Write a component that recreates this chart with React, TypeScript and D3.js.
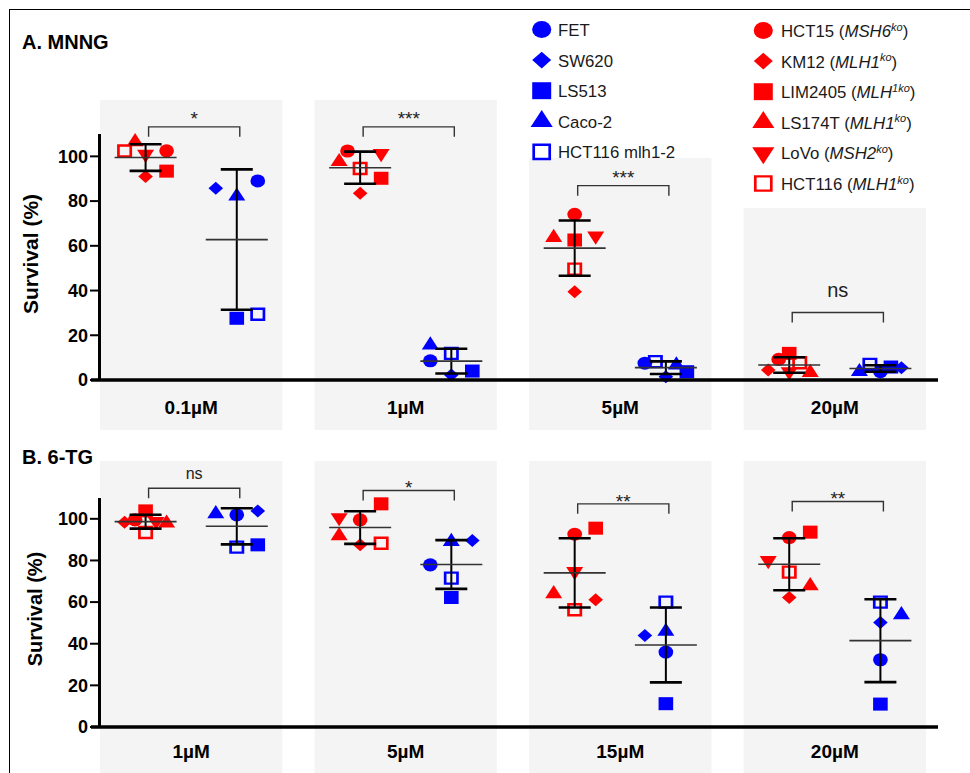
import * as d3 from "d3";

const FONT = "'Liberation Sans', Arial, Helvetica, sans-serif";
const RED = "#ff0000";
const BLUE = "#0000ff";

// cell lines
const DEFICIENT_LINES = ["HCT15", "KM12", "LIM2405", "LS174T", "LoVo", "HCT116"];
const DEFICIENT_GENES = ["MSH6", "MLH1", "MLH", "MLH1", "MSH2", "MLH1"];
const DEFICIENT_SUP = ["ko", "ko", "1ko", "ko", "ko", "ko"];
const PROFICIENT_LINES = ["FET", "SW620", "LS513", "Caco-2", "HCT116 mlh1-2"];

type Shape = "circle" | "diamond" | "square" | "triangle" | "triangleDown" | "openSquare";
const DEFICIENT_SHAPES: Shape[] = ["circle", "diamond", "square", "triangle", "triangleDown", "openSquare"];
const PROFICIENT_SHAPES: Shape[] = ["circle", "diamond", "square", "triangle", "openSquare"];

// doses
const MNNG_DOSES = ["0.1µM", "1µM", "5µM", "20µM"];
const TG_DOSES = ["1µM", "5µM", "15µM", "20µM"];

// survival (%) per dose, same order as the cell lines
const MNNG_DEFICIENT = [
  [102.5, 91, 93.4, 106.5, 101, 102.4],
  [102.4, 83.5, 90.2, 97.6, 101.3, 94.6],
  [74.1, 39.5, 62.6, 63.7, 64.4, 49.6],
  [9.2, 4.5, 11.9, 3.3, 3.7, 7.7],
];
const MNNG_PROFICIENT = [
  [89, 85.7, 27.6, 82.2, 29.4],
  [8.6, 2.2, 4.0, 15.6, 11.9],
  [7.5, 1.5, 3.7, 6.7, 8.2],
  [3.7, 5.5, 5.8, 3.7, 7.0],
];
const TG_DEFICIENT = [
  [99.5, 98.4, 103.8, 97.9, 98.8, 93.4],
  [99.5, 87.5, 107.2, 91.8, 100.6, 88.3],
  [92.6, 61.1, 95.5, 64, 74.7, 56.3],
  [91, 62.2, 93.6, 67.8, 80, 74.4],
];
const TG_PROFICIENT = [
  [101.9, 103.8, 87.5, 102.4, 86.4],
  [77.9, 89.6, 62.2, 89.1, 71.5],
  [36, 44, 11.2, 45.9, 60],
  [32.3, 50.2, 11, 53.9, 60],
];

// scatter lane of each point inside its column (overlap spreading)
const MNNG_DEFICIENT_LANE = [
  [1, 0, 1, -0.5, 0, -1],
  [-0.6, 0, 1, -1, 1, 0],
  [0, 0, 0, -1, 1, 0],
  [-0.5, -1, 0, 1, 0, 0.5],
];
const MNNG_PROFICIENT_LANE = [
  [1, -1, 0, 0, 1],
  [-1, 0, 1, -1, 0],
  [-1, 0, 1, 0.5, -0.5],
  [0, 1, 0.5, -1, -0.5],
];
const TG_DEFICIENT_LANE = [
  [-0.5, -1, 0, 1, 0.5, 0],
  [0, 0, 1, -1, -1, 1],
  [0, 1, 1, -1, 0, 0],
  [0, 0, 1, 1, -1, 0],
];
const TG_PROFICIENT_LANE = [
  [0, 1, 1, -1, 0],
  [-1, 1, 0, 0, 0],
  [0, -1, 0, 0, 0],
  [0, 0, 0, 1, 0],
];

// significance brackets
const MNNG_BRACKET = [113.2, 113.2, 86.9, 30.2];
const MNNG_SIG = ["*", "***", "***", "ns"];
const TG_BRACKET = [114.7, 113.6, 107.2, 108.3];
const TG_SIG = ["ns", "*", "**", "**"];

const Y_TICKS = [0, 20, 40, 60, 80, 100];

const diamond = {
  draw(ctx: any, size: number) {
    const r = Math.sqrt(size / 2);
    ctx.moveTo(0, -r);
    ctx.lineTo(r, 0);
    ctx.lineTo(0, r);
    ctx.lineTo(-r, 0);
    ctx.closePath();
  },
};
const SYMBOL_TYPE: Record<Shape, any> = {
  circle: d3.symbolCircle,
  diamond,
  square: d3.symbolSquare,
  triangle: d3.symbolTriangle,
  triangleDown: d3.symbolTriangle,
  openSquare: d3.symbolSquare,
};
const SYMBOL_SIZE: Record<Shape, number> = {
  circle: 135,
  diamond: 85,
  square: 170,
  triangle: 100,
  triangleDown: 100,
  openSquare: 121,
};

function Marker({ shape, color, x, y, k = 1 }: { shape: Shape; color: string; x: number; y: number; k?: number }) {
  const d = d3.symbol(SYMBOL_TYPE[shape], SYMBOL_SIZE[shape] * k * k)() || "";
  const rot = shape === "triangleDown" ? " rotate(180)" : "";
  const open = shape === "openSquare";
  return (
    <path
      d={d}
      transform={`translate(${x},${y}) scale(1.12,1)${rot}`}
      fill={open ? "none" : color}
      stroke={open ? color : "none"}
      strokeWidth={open ? 2.4 : 0}
    />
  );
}

interface PanelCfg {
  title: string;
  titleY: number;
  doses: string[];
  deficient: number[][];
  proficient: number[][];
  defLane: number[][];
  profLane: number[][];
  bracket: number[];
  sig: string[];
  y0: number;
  yTop: number;
  bandTop: number;
  bandBottom: number;
  catY: number;
  yLabel: [number, number, number];
  starGap: number;
  nsGap: number;
  nsSize: number;
}

function Panel({ cfg }: { cfg: PanelCfg }) {
  const x = d3.scaleBand<string>().domain(cfg.doses).range([100, 926]).paddingInner(0.15);
  const side = d3
    .scalePoint<string>()
    .domain(["deficient", "proficient"])
    .range([0, x.bandwidth()])
    .padding(0.5);
  const lane = d3.scaleLinear().domain([-1, 1]).range([-21, 21]);
  const y = d3.scaleLinear().domain([0, 110]).range([cfg.y0, cfg.yTop]);

  const groups = cfg.doses.flatMap((dose, i) => [
    {
      dose,
      cx: x(dose)! + side("deficient")!,
      values: cfg.deficient[i],
      lanes: cfg.defLane[i],
      shapes: DEFICIENT_SHAPES,
      color: RED,
    },
    {
      dose,
      cx: x(dose)! + side("proficient")!,
      values: cfg.proficient[i],
      lanes: cfg.profLane[i],
      shapes: PROFICIENT_SHAPES,
      color: BLUE,
    },
  ]);

  return (
    <g fontFamily={FONT}>
      {cfg.doses.map((dose) => (
        <rect
          key={dose}
          x={x(dose)}
          y={cfg.bandTop}
          width={x.bandwidth()}
          height={cfg.bandBottom - cfg.bandTop}
          fill="#f4f4f4"
        />
      ))}
      <text x={22} y={cfg.titleY} fontSize={20} fontWeight="bold" fill="#000">
        {cfg.title}
      </text>

      {/* y axis */}
      <line x1={99.5} x2={99.5} y1={cfg.y0} y2={y(110)} stroke="#000" strokeWidth={3} />
      {Y_TICKS.map((t) => (
        <g key={t}>
          <line x1={90} x2={99} y1={y(t)} y2={y(t)} stroke="#000" strokeWidth={2} />
          <text x={88} y={y(t) + 6.4} fontSize={18} fontWeight="bold" textAnchor="end" fill="#000">
            {t}
          </text>
        </g>
      ))}
      <text
        transform={`translate(${cfg.yLabel[0]},${cfg.yLabel[1]}) rotate(-90)`}
        fontSize={cfg.yLabel[2]}
        fontWeight="bold"
        textAnchor="middle"
        fill="#000"
      >
        Survival (%)
      </text>

      {/* category labels */}
      {cfg.doses.map((dose) => (
        <text
          key={dose}
          x={x(dose)! + x.bandwidth() / 2}
          y={cfg.catY}
          fontSize={19}
          fontWeight="bold"
          textAnchor="middle"
          fill="#000"
        >
          {dose}
        </text>
      ))}

      {/* points */}
      {groups.map((g, gi) => (
        <g key={gi}>
          {g.values.map((v, j) => (
            <Marker key={j} shape={g.shapes[j]} color={g.color} x={g.cx + lane(g.lanes[j])} y={y(v)} />
          ))}
        </g>
      ))}

      {/* mean ± SD */}
      {groups.map((g, gi) => {
        const m = d3.mean(g.values)!;
        const sd = d3.deviation(g.values)!;
        return (
          <g key={gi} stroke="#000">
            <line x1={g.cx} x2={g.cx} y1={y(m + sd)} y2={y(m - sd)} strokeWidth={2} />
            <line x1={g.cx - 16} x2={g.cx + 16} y1={y(m + sd)} y2={y(m + sd)} strokeWidth={2.6} />
            <line x1={g.cx - 16} x2={g.cx + 16} y1={y(m - sd)} y2={y(m - sd)} strokeWidth={2.6} />
            <line x1={g.cx - 31} x2={g.cx + 31} y1={y(m)} y2={y(m)} strokeWidth={1.6} stroke="#333" />
          </g>
        );
      })}

      {/* x axis */}
      <line x1={91} x2={938} y1={cfg.y0} y2={cfg.y0} stroke="#000" strokeWidth={3.5} />

      {/* significance brackets */}
      {cfg.doses.map((dose, i) => {
        const x1 = x(dose)! + side("deficient")! + 3;
        const x2 = x(dose)! + side("proficient")! + 3;
        const by = y(cfg.bracket[i]);
        const ns = cfg.sig[i] === "ns";
        return (
          <g key={dose}>
            <path
              d={`M${x1},${by + 10}V${by}H${x2}V${by + 10}`}
              fill="none"
              stroke="#333"
              strokeWidth={1.4}
            />
            <text
              x={(x1 + x2) / 2}
              y={ns ? by - cfg.nsGap : by - cfg.starGap + 8.2}
              fontSize={ns ? cfg.nsSize : 19}
              textAnchor="middle"
              fill="#222"
            >
              {cfg.sig[i]}
            </text>
          </g>
        );
      })}
    </g>
  );
}

function Legend() {
  const rowY = d3.scaleLinear().domain([0, 1]).range([30, 60.6]);
  return (
    <g fontFamily={FONT} fontSize={16.8} fill="#1a1a1a">
      <rect x={525} y={10} width={197} height={148} fill="#fff" />
      <rect x={735} y={10} width={195} height={198} fill="#fff" />
      {PROFICIENT_LINES.map((name, i) => (
        <g key={name}>
          <Marker shape={PROFICIENT_SHAPES[i]} color={BLUE} x={541.7} y={rowY(i) - 0.5} k={1.3} />
          <text x={558} y={rowY(i) + 6}>
            {name}
          </text>
        </g>
      ))}
      {DEFICIENT_LINES.map((name, i) => (
        <g key={name}>
          <Marker shape={DEFICIENT_SHAPES[i]} color={RED} x={763.3} y={rowY(i) + 0.5} k={1.3} />
          <text x={781} y={rowY(i) + 7}>
            {name} (<tspan fontStyle="italic">{DEFICIENT_GENES[i]}</tspan>
            <tspan fontStyle="italic" fontSize={11} dy={-6.5}>
              {DEFICIENT_SUP[i]}
            </tspan>
            <tspan dy={6.5}>)</tspan>
          </text>
        </g>
      ))}
    </g>
  );
}

const PANEL_A: PanelCfg = {
  title: "A. MNNG",
  titleY: 49,
  doses: MNNG_DOSES,
  deficient: MNNG_DEFICIENT,
  proficient: MNNG_PROFICIENT,
  defLane: MNNG_DEFICIENT_LANE,
  profLane: MNNG_PROFICIENT_LANE,
  bracket: MNNG_BRACKET,
  sig: MNNG_SIG,
  y0: 380,
  yTop: 134,
  bandTop: 100,
  bandBottom: 430,
  catY: 414,
  yLabel: [38, 254, 21],
  starGap: 10,
  nsGap: 15.6,
  nsSize: 20,
};

const PANEL_B: PanelCfg = {
  title: "B. 6-TG",
  titleY: 464,
  doses: TG_DOSES,
  deficient: TG_DEFICIENT,
  proficient: TG_PROFICIENT,
  defLane: TG_DEFICIENT_LANE,
  profLane: TG_PROFICIENT_LANE,
  bracket: TG_BRACKET,
  sig: TG_SIG,
  y0: 727,
  yTop: 498,
  bandTop: 461,
  bandBottom: 780,
  catY: 758,
  yLabel: [42, 609, 20],
  starGap: 4.5,
  nsGap: 9,
  nsSize: 16,
};

export default function App() {
  return (
    <svg
      width={970}
      height={773}
      style={{ position: "absolute", left: 0, top: 0, background: "#fff" }}
    >
      <rect x={0} y={0} width={970} height={773} fill="#fff" />
      <Panel cfg={PANEL_A} />
      <Panel cfg={PANEL_B} />
      <Legend />
      <rect x={9.5} y={9.5} width={990} height={800} fill="none" stroke="#000" strokeWidth={1} />
    </svg>
  );
}
